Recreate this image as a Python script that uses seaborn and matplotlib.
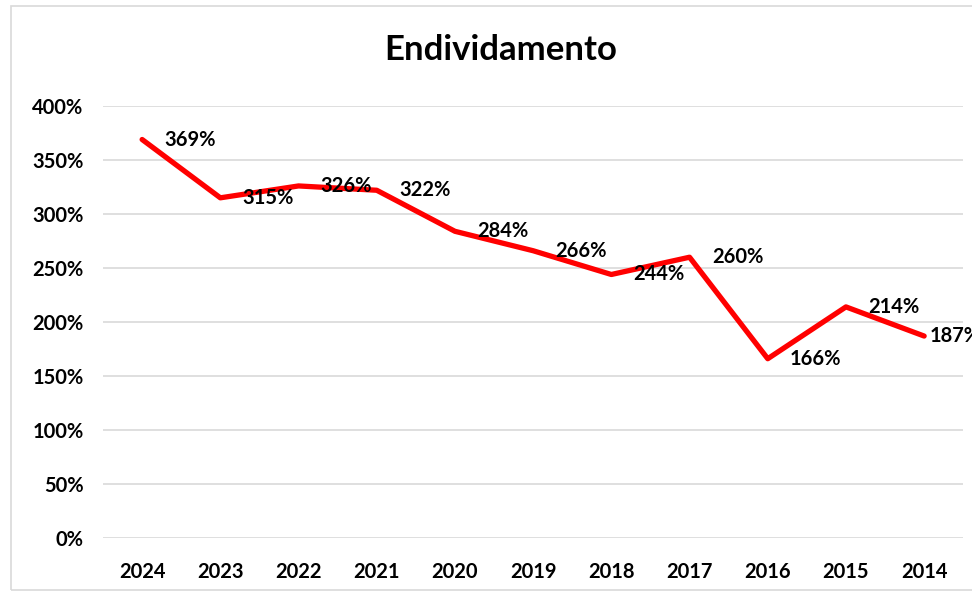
import matplotlib
matplotlib.use("Agg")
import matplotlib.pyplot as plt
from matplotlib.patches import Rectangle
import seaborn as sns
import pandas as pd

years = ["2024", "2023", "2022", "2021", "2020", "2019", "2018", "2017", "2016", "2015", "2014"]
debt_pct = [369, 315, 326, 322, 284, 266, 244, 260, 166, 214, 187]
y_ticks = [0, 50, 100, 150, 200, 250, 300, 350, 400]

sns.set_theme(style="white")
plt.rcParams['font.family'] = ['Lato', 'DejaVu Sans']

df = pd.DataFrame({"ano": years, "valor": debt_pct})

fig = plt.figure(figsize=(9.72, 5.94), dpi=100)
ax = fig.add_axes([0.106, 0.0943, 0.885, 0.7272])

# light border round the chart area, like the Excel chart frame
fig.patches.append(Rectangle((11 / 972, 4 / 594), 1.2, 584 / 594, transform=fig.transFigure,
                             fill=False, edgecolor="#d9d9d9", linewidth=1.2))

sns.lineplot(data=df, x="ano", y="valor", sort=False, color="#ff0000", linewidth=3.8, ax=ax)

for i, v in enumerate(debt_pct):
    # last label sits close to the point, as Excel squeezes it at the edge
    dx = 4 if i == len(debt_pct) - 1 else 16
    ax.annotate(f"{v}%", (i, v), xytext=(dx, 0), textcoords="offset points",
                ha="left", va="center", fontsize=14.5, fontweight="bold", color="black",
                annotation_clip=False)

ax.set_xlim(-0.5, len(years) - 0.5)
ax.set_ylim(0, 400)
ax.set_yticks(y_ticks)
ax.set_yticklabels([f"{t}%" for t in y_ticks])
ax.grid(axis="y", color="#d9d9d9", linewidth=1.2)
ax.grid(axis="x", visible=False)
for s in ax.spines.values():
    s.set_visible(False)
ax.tick_params(axis="x", length=0, labelsize=14.5, pad=17, labelcolor="black")
ax.tick_params(axis="y", length=0, labelsize=14.5, pad=14, labelcolor="black")
for lab in ax.get_xticklabels() + ax.get_yticklabels():
    lab.set_fontweight("bold")
ax.set_xlabel("")
ax.set_ylabel("")

fig.text(0.515, 0.915, "Endividamento", ha="center", va="center", fontsize=25,
         fontweight="bold", color="black")

fig.savefig("out.png", dpi=100)
